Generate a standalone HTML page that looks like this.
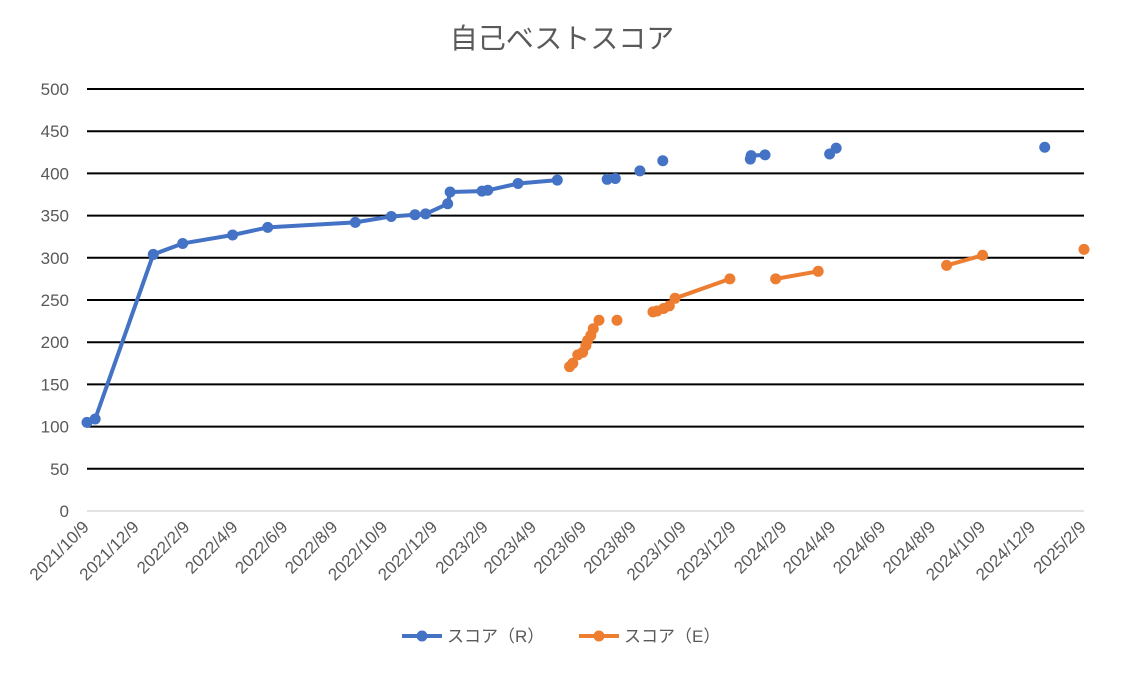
<!DOCTYPE html>
<html><head><meta charset="utf-8"><style>
body{margin:0;background:#fff;}
svg text{font-family:"Liberation Sans","Noto Sans CJK JP",sans-serif;fill:#595959;}
</style></head><body>
<svg id="c" width="1124" height="669" xmlns="http://www.w3.org/2000/svg">
<text x="562" y="48" font-size="28" text-anchor="middle">自己ベストスコア</text>
<g id="grid"></g><g id="xt"></g><g id="yt"></g><g id="ser"></g>
<g>
<g><line x1="402" y1="636" x2="442" y2="636" stroke="#4472C4" stroke-width="4"/><circle cx="422" cy="636" r="5.5" fill="#4472C4"/><text x="447" y="642" font-size="17">スコア（R）</text></g>
<g><line x1="579" y1="636" x2="619" y2="636" stroke="#ED7D31" stroke-width="4"/><circle cx="599" cy="636" r="5.5" fill="#ED7D31"/><text x="624" y="642" font-size="17">スコア（E）</text></g>
</g>
</svg>
<script>
// days since 2021/10/9; null = gap
const rDays=[0,10,81,117,178,221,328,372,401,414,441,444,483,490,527,575,null,636,646,null,676,null,704,null,811,812,829,null,908,916,null,1171];
const rVals=[105,109,304,317,327,336,342,349,351,352,364,378,379,380,388,392,null,393,394,null,403,null,415,null,417,421,422,null,423,430,null,431];
const eDays=[590,594,600,606,610,612,616,619,626,null,648,null,692,697,705,712,719,786,null,842,894,null,1051,1095,null,1219];
const eVals=[171,175,185,188,196,202,208,216,226,null,226,null,236,237,240,243,252,275,null,275,284,null,291,303,null,310];
const yTicks=[0,50,100,150,200,250,300,350,400,450,500];
const xTicks=["2021/10/9","2021/12/9","2022/2/9","2022/4/9","2022/6/9","2022/8/9","2022/10/9","2022/12/9","2023/2/9","2023/4/9","2023/6/9","2023/8/9","2023/10/9","2023/12/9","2024/2/9","2024/4/9","2024/6/9","2024/8/9","2024/10/9","2024/12/9","2025/2/9"];
const NS="http://www.w3.org/2000/svg";
const X0=87,X1=1084,Y0=511,Y1=89,D=1219;
const base=Date.UTC(2021,9,9);
const xs=d=>X0+(X1-X0)*d/D, ys=v=>Y0-(Y0-Y1)*v/500;
function mk(t,a,p){const e=document.createElementNS(NS,t);for(const k in a)e.setAttribute(k,a[k]);p.appendChild(e);return e;}
const grid=document.getElementById('grid'),yt=document.getElementById('yt'),xt=document.getElementById('xt'),ser=document.getElementById('ser');
yTicks.forEach(v=>{const y=ys(v);
 const l=mk('line',{x1:X0,x2:X1,y1:y,y2:y,stroke:v===0?'#d9d9d9':'#000','stroke-width':v===0?1.5:2},grid);
 
 
 const t=mk('text',{x:69,y:y+6,'font-size':17,'text-anchor':'end'},yt);t.textContent=v;
 
 
});
xTicks.forEach(s=>{const [Y,M,Dd]=s.split('/').map(Number);const d=(Date.UTC(Y,M-1,Dd)-base)/864e5;const x=xs(d);
 const t=mk('text',{x:0,y:0,'font-size':17,'text-anchor':'end',transform:`translate(${x+3},${Y0+17}) rotate(-45)`},xt);t.textContent=s;
 
 
});
function series(days,vals,col,name){
 let seg=[];const segs=[];
 days.forEach((d,i)=>{if(d===null||vals[i]===null){if(seg.length)segs.push(seg);seg=[];}else seg.push([xs(d),ys(vals[i])]);});
 if(seg.length)segs.push(seg);
 segs.forEach(s=>{if(s.length>1){const p=mk('polyline',{points:s.map(q=>q.join(',')).join(' '),fill:'none',stroke:col,'stroke-width':4,'stroke-linejoin':'round'},ser);
  
  }});
 segs.flat().forEach(q=>{const c=mk('circle',{cx:q[0],cy:q[1],r:5.5,fill:col},ser);
  
  });
}
series(rDays,rVals,'#4472C4','score-r');
series(eDays,eVals,'#ED7D31','score-e');
</script>
</body></html>
